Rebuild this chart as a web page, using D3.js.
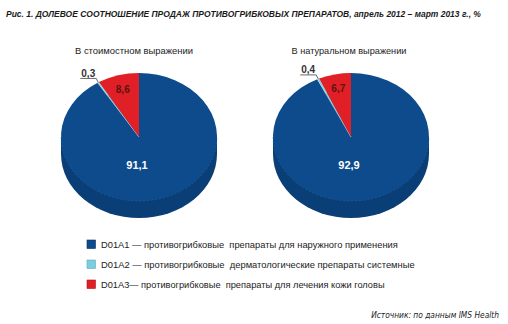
<!DOCTYPE html>
<html>
<head>
<meta charset="utf-8">
<script src="https://cdn.jsdelivr.net/npm/d3@7"></script>
<style>
  html, body { margin: 0; padding: 0; background: #fff; }
  svg { display: block; }
</style>
</head>
<body>
<svg id="chart" width="508" height="324"></svg>
<script>
// Sales share of antifungal drugs, April 2012 – March 2013, %
const categories = ["D01A1", "D01A2", "D01A3"];
const legendLabels = [
  "D01A1 \u2014 противогрибковые  препараты для наружного применения",
  "D01A2 \u2014 противогрибковые  дерматологические препараты системные",
  "D01A3\u2014 противогрибковые  препараты для лечения кожи головы"
];
const valueShare = [91.1, 0.3, 8.6];     // в стоимостном выражении
const volumeShare = [92.9, 0.4, 6.7];    // в натуральном выражении
const pieTitles = ["В стоимостном выражении", "В натуральном выражении"];
const chartTitle = "Рис. 1. ДОЛЕВОЕ СООТНОШЕНИЕ ПРОДАЖ ПРОТИВОГРИБКОВЫХ ПРЕПАРАТОВ, апрель 2012 \u2013 март 2013 г., %";
const sourceText = "Источник: по данным IMS Health";

const colors = { D01A1: "#0d4b8c", D01A2: "#7ccbe0", D01A3: "#e01f26" };
const sideColor = "#0a3e76";
const labelColors = { D01A1: "#ffffff", D01A2: "#333333", D01A3: "#5a1512" };

const svg = d3.select("#chart");
const fmt = v => d3.format(".1f")(v).replace(".", ",");
const narrow = "'Liberation Sans Narrow', 'DejaVu Sans Condensed', 'Arial Narrow', sans-serif";
const sans = "'Liberation Sans', Arial, sans-serif";

// Fit a text element to a given width by scaling its font size
function fitWidth(sel, width) {
  const w = sel.node().getComputedTextLength();
  const fs = parseFloat(sel.attr("font-size"));
  sel.attr("font-size", fs * width / w);
  return sel;
}

// Title
fitWidth(svg.append("text")
  .attr("x", 6).attr("y", 17)
  .attr("font-family", sans)
  .attr("font-size", 10)
  .attr("font-weight", "bold")
  .attr("font-style", "italic")
  .attr("fill", "#1a1a1a")
  .text(chartTitle), 476);

const rx = 78, ry = 64, depth = 17;
const pies = [
  { title: pieTitles[0], values: valueShare, cx: 139, cy: 137, titleX: 134, titleW: 118 },
  { title: pieTitles[1], values: volumeShare, cx: 351, cy: 137, titleX: 349, titleW: 115 }
];

const pieGen = d3.pie().sort(null).value(d => d.v);
const arc = d3.arc().innerRadius(0).outerRadius(rx);

pies.forEach(p => {
  const data = categories.map((c, i) => ({ c, v: p.values[i] }));
  const arcs = pieGen(data);
  const g = svg.append("g").attr("transform", `translate(${p.cx},${p.cy})`);

  // pie title
  fitWidth(svg.append("text")
    .attr("x", p.titleX).attr("y", 54)
    .attr("text-anchor", "middle")
    .attr("font-family", sans)
    .attr("font-size", 10)
    .attr("fill", "#222")
    .text(p.title), p.titleW);

  // side of the disc
  g.append("rect")
    .attr("x", -rx).attr("y", 0)
    .attr("width", 2 * rx).attr("height", depth)
    .attr("fill", sideColor);
  g.append("ellipse")
    .attr("cx", 0).attr("cy", depth)
    .attr("rx", rx).attr("ry", ry)
    .attr("fill", sideColor);

  // top face, flattened circle
  const top = g.append("g").attr("transform", `scale(1,${ry / rx})`);
  top.selectAll("path")
    .data(arcs)
    .join("path")
    .attr("d", arc)
    .attr("fill", d => colors[d.data.c])
    .attr("stroke", d => d.data.c === "D01A2" ? "#b8e4f0" : "none")
    .attr("stroke-width", 0.6);

  // faint rim along the front edge
  g.append("path")
    .attr("d", `M${-rx},0 A${rx},${ry} 0 0,0 ${rx},0`)
    .attr("fill", "none")
    .attr("stroke", "#3a6fa8")
    .attr("stroke-width", 0.7)
    .attr("stroke-dasharray", "2,2")
    .attr("opacity", 0.6);

  // large slice label
  const big = arcs[0];
  g.append("text")
    .attr("x", -2).attr("y", 32)
    .attr("text-anchor", "middle")
    .attr("font-family", sans)
    .attr("font-weight", "bold")
    .attr("font-size", 11)
    .attr("fill", labelColors.D01A1)
    .text(fmt(big.data.v));

  // red slice label, inside near the rim
  const red = arcs[2];
  const ma = (red.startAngle + red.endAngle) / 2;
  g.append("text")
    .attr("x", Math.sin(ma) * rx * 0.78)
    .attr("y", -Math.cos(ma) * ry * 0.78 + 4)
    .attr("text-anchor", "middle")
    .attr("font-family", sans)
    .attr("font-weight", "bold")
    .attr("font-size", 10)
    .attr("fill", labelColors.D01A3)
    .text(fmt(red.data.v));

  // thin slice label with leader line
  const thin = arcs[1];
  const ta = (thin.startAngle + thin.endAngle) / 2;
  const ex = Math.sin(ta) * rx, ey = -Math.cos(ta) * ry;
  const lx = ex - 17, ly = ey - 4;
  g.append("path")
    .attr("d", `M${lx - 1},${ly} L${ex - 2},${ly} L${ex},${ey}`)
    .attr("fill", "none")
    .attr("stroke", "#444")
    .attr("stroke-width", 0.8);
  g.append("text")
    .attr("x", lx + 7).attr("y", ly - 1.5)
    .attr("text-anchor", "middle")
    .attr("font-family", sans)
    .attr("font-weight", "bold")
    .attr("font-size", 10)
    .attr("fill", labelColors.D01A2)
    .text(fmt(thin.data.v));
});

// Legend
const legend = svg.append("g");
const rowY = d3.scalePoint().domain(categories).range([240, 280]);
const legendWidths = [297, 314, 284];
categories.forEach((c, i) => {
  legend.append("rect")
    .attr("x", 87).attr("y", rowY(c))
    .attr("width", 8.5).attr("height", 8.5)
    .attr("fill", colors[c])
    .attr("stroke", c === "D01A1" ? "#0a2f5a" : (c === "D01A2" ? "#5aa9bf" : "#b01419"))
    .attr("stroke-width", 0.6);
  fitWidth(legend.append("text")
    .attr("x", 101).attr("y", rowY(c) + 8)
    .attr("font-family", sans)
    .attr("font-size", 9.5)
    .attr("fill", "#222")
    .attr("xml:space", "preserve")
    .text(legendLabels[i]), legendWidths[i]);
});

// Source note
fitWidth(svg.append("text")
  .attr("x", 499).attr("y", 318)
  .attr("text-anchor", "end")
  .attr("font-family", narrow)
  .attr("font-style", "italic")
  .attr("font-size", 10)
  .attr("fill", "#222")
  .text(sourceText), 128);
</script>
</body>
</html>
